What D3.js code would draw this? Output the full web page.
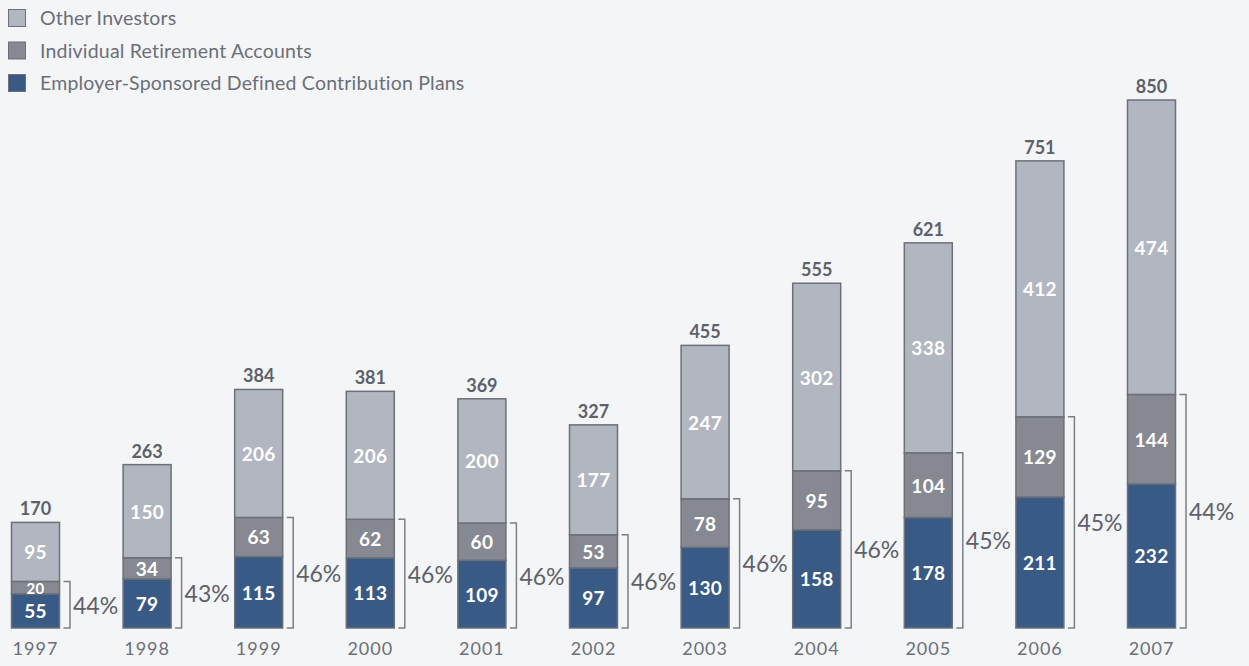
<!DOCTYPE html>
<html>
<head>
<meta charset="utf-8">
<script src="https://cdn.jsdelivr.net/npm/d3@7"></script>
<style>
  body { margin: 0; background: #f4f5f7; }
  svg { display: block; }
  text { font-family: Lato, "Open Sans", sans-serif; }
</style>
</head>
<body>
<div id="chart"></div>
<script>
var years = ["1997", "1998", "1999", "2000", "2001", "2002", "2003", "2004", "2005", "2006", "2007"];
var employer = [55, 79, 115, 113, 109, 97, 130, 158, 178, 211, 232];
var ira = [20, 34, 63, 62, 60, 53, 78, 95, 104, 129, 144];
var other = [95, 150, 206, 206, 200, 177, 247, 302, 338, 412, 474];
var totals = [170, 263, 384, 381, 369, 327, 455, 555, 621, 751, 850];
var shares = ["44%", "43%", "46%", "46%", "46%", "46%", "46%", "46%", "45%", "45%", "44%"];
var seriesNames = ["Other Investors", "Individual Retirement Accounts", "Employer-Sponsored Defined Contribution Plans"];

var colors = { employer: "#3a5a86", ira: "#868991", other: "#b1b6c1" };
var strokeCol = "#6b7079";
var textCol = "#5c616a";

var width = 1249, height = 666;

var svg = d3.select("#chart").append("svg")
  .attr("width", width)
  .attr("height", height);

svg.append("rect").attr("width", width).attr("height", height).attr("fill", "#f4f5f7");

var x = d3.scaleBand()
  .domain(years)
  .range([11.5, 1175.5])
  .paddingInner(0.57)
  .paddingOuter(0);

var y = d3.scaleLinear()
  .domain([0, 850])
  .range([628, 100]);

// stack the three series
var rows = years.map(function (yr, i) {
  return { year: yr, employer: employer[i], ira: ira[i], other: other[i] };
});
var stack = d3.stack().keys(["employer", "ira", "other"])(rows);

var bars = svg.append("g").classed("bars", true);

stack.forEach(function (layer) {
  var g = bars.append("g").classed(layer.key, true);
  g.selectAll("rect")
    .data(layer)
    .enter()
    .append("rect")
      .attr("x", function (d) { return x(d.data.year); })
      .attr("y", function (d) { return y(d[1]); })
      .attr("width", x.bandwidth())
      .attr("height", function (d) { return y(d[0]) - y(d[1]); })
      .attr("fill", colors[layer.key])
      .attr("stroke", strokeCol)
      .attr("stroke-width", 1.5);

  g.selectAll("text")
    .data(layer)
    .enter()
    .append("text")
      .attr("x", function (d) { return x(d.data.year) + x.bandwidth() / 2; })
      .attr("y", function (d) { return (y(d[0]) + y(d[1])) / 2; })
      .attr("text-anchor", "middle")
      .attr("dominant-baseline", "central")
      .style("font-size", function (d) {
        var h = y(d[0]) - y(d[1]);
        return Math.min(19, h * 1.2) + "px";
      })
      .style("font-weight", 700)
      .style("letter-spacing", "0.3px")
      .style("fill", "#ffffff")
      .text(function (d) { return d[1] - d[0]; });
});

// totals on top
svg.append("g").selectAll("text")
  .data(stack[2])
  .enter()
  .append("text")
    .attr("x", function (d) { return x(d.data.year) + x.bandwidth() / 2; })
    .attr("y", function (d) { return y(d[1]) - 7; })
    .attr("text-anchor", "middle")
    .style("font-size", "18px")
    .style("font-weight", 700)
    .style("fill", textCol)
    .text(function (d, i) { return totals[i]; });

// brackets for retirement share
var brackets = svg.append("g").classed("brackets", true);
stack[1].forEach(function (d, i) {
  var x0 = x(d.data.year) + x.bandwidth() + 4;
  var x1 = x0 + 6.5;
  var top = y(d[1]), bot = y(0);
  brackets.append("path")
    .attr("d", "M" + x0 + "," + top + " H" + x1 + " V" + bot + " H" + x0)
    .attr("fill", "none")
    .attr("stroke", "#7b7f88")
    .attr("stroke-width", 1.5);
  brackets.append("text")
    .attr("x", x1 + 3)
    .attr("y", (top + bot) / 2)
    .attr("dominant-baseline", "central")
    .style("font-size", "23px")
    .style("fill", textCol)
    .text(shares[i]);
});

// year labels
var axis = d3.axisBottom(x).tickSize(0).tickPadding(0);
var ax = svg.append("g").attr("transform", "translate(0,642)").call(axis);
ax.select(".domain").remove();
ax.selectAll("text")
  .attr("dy", "0.71em")
  .style("font-size", "18px")
  .style("letter-spacing", "1px")
  .style("fill", "#6b6f78")
  .style("font-family", "Lato, sans-serif");

// legend
var legendCols = [colors.other, colors.ira, colors.employer];
var legend = svg.append("g").classed("legend", true);
seriesNames.forEach(function (name, i) {
  legend.append("rect")
    .attr("x", 8.5).attr("y", 9.5 + i * 32.5)
    .attr("width", 17).attr("height", 17)
    .attr("fill", legendCols[i])
    .attr("stroke", strokeCol)
    .attr("stroke-width", 1);
  legend.append("text")
    .attr("x", 40).attr("y", 25 + i * 32.5)
    .style("font-size", "19.5px")
    .style("letter-spacing", "0.2px")
    .style("fill", "#6b6f78")
    .text(name);
});
</script>
</body>
</html>
